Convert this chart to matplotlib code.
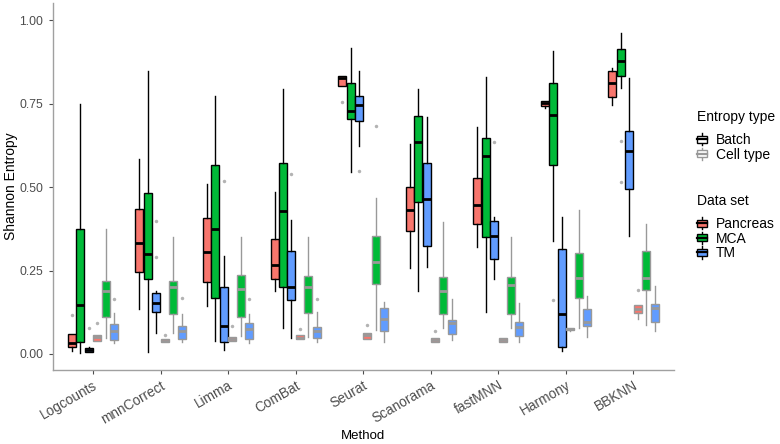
import matplotlib
matplotlib.use("Agg")
import matplotlib.pyplot as plt
from matplotlib.patches import Patch, Rectangle
from matplotlib.lines import Line2D
from matplotlib.legend_handler import HandlerBase

plt.rcParams['font.family'] = ['Liberation Sans', 'DejaVu Sans']

methods = ["Logcounts", "mnnCorrect", "Limma", "ComBat", "Seurat",
           "Scanorama", "fastMNN", "Harmony", "BBKNN"]
datasets = ["Pancreas", "MCA", "TM"]
entropy_types = ["Batch", "Cell type"]
ds_colors = ["#F8766D", "#00BA38", "#619CFF"]
line_colors = ["black", "#999999"]

# box stats per method, columns = Pancreas, MCA, TM
batch_lo = [[0.010, 0.002, 0.005], [0.135, 0.005, 0.062], [0.145, 0.040, 0.012],
            [0.189, 0.077, 0.049], [0.804, 0.545, 0.622], [0.257, 0.190, 0.262],
            [0.322, 0.127, 0.224], [0.737, 0.340, 0.010], [0.747, 0.797, 0.355]]
batch_q1 = [[0.020, 0.037, 0.007], [0.245, 0.225, 0.125], [0.215, 0.169, 0.035],
            [0.225, 0.202, 0.162], [0.804, 0.704, 0.699], [0.369, 0.457, 0.325],
            [0.390, 0.352, 0.285], [0.744, 0.567, 0.020], [0.770, 0.832, 0.494]]
batch_med = [[0.034, 0.147, 0.012], [0.334, 0.300, 0.154], [0.307, 0.374, 0.084],
             [0.267, 0.429, 0.200], [0.826, 0.727, 0.747], [0.432, 0.634, 0.464],
             [0.447, 0.592, 0.355], [0.752, 0.715, 0.120], [0.812, 0.877, 0.607]]
batch_q3 = [[0.059, 0.374, 0.018], [0.435, 0.482, 0.182], [0.407, 0.565, 0.200],
            [0.345, 0.572, 0.310], [0.832, 0.812, 0.774], [0.500, 0.714, 0.572],
            [0.527, 0.647, 0.399], [0.758, 0.813, 0.314], [0.847, 0.914, 0.669]]
batch_hi = [[0.060, 0.750, 0.020], [0.584, 0.847, 0.189], [0.510, 0.774, 0.294],
            [0.485, 0.794, 0.402], [0.832, 0.917, 0.849], [0.629, 0.794, 0.709],
            [0.679, 0.829, 0.412], [0.758, 0.909, 0.412], [0.857, 0.961, 0.827]]

cell_lo = [[0.040, 0.047, 0.034], [0.037, 0.062, 0.037], [0.040, 0.055, 0.034],
           [0.044, 0.050, 0.035], [0.045, 0.072, 0.035], [0.037, 0.077, 0.042],
           [0.037, 0.077, 0.037], [0.068, 0.077, 0.050], [0.104, 0.087, 0.070]]
cell_q1 = [[0.040, 0.112, 0.042], [0.037, 0.119, 0.045], [0.040, 0.112, 0.044],
           [0.044, 0.122, 0.049], [0.045, 0.210, 0.070], [0.037, 0.120, 0.060],
           [0.037, 0.120, 0.054], [0.072, 0.169, 0.084], [0.122, 0.192, 0.095]]
cell_med = [[0.050, 0.189, 0.069], [0.040, 0.202, 0.069], [0.046, 0.194, 0.074],
            [0.049, 0.202, 0.069], [0.057, 0.277, 0.105], [0.042, 0.189, 0.092],
            [0.043, 0.207, 0.082], [0.075, 0.229, 0.097], [0.134, 0.229, 0.137]]
cell_q3 = [[0.057, 0.219, 0.089], [0.044, 0.219, 0.084], [0.052, 0.237, 0.092],
           [0.057, 0.235, 0.082], [0.062, 0.354, 0.137], [0.047, 0.232, 0.102],
           [0.047, 0.232, 0.095], [0.079, 0.302, 0.134], [0.147, 0.309, 0.150]]
cell_hi = [[0.057, 0.374, 0.124], [0.044, 0.352, 0.119], [0.052, 0.352, 0.119],
           [0.057, 0.350, 0.125], [0.062, 0.469, 0.155], [0.047, 0.397, 0.164],
           [0.047, 0.350, 0.152], [0.079, 0.432, 0.174], [0.147, 0.389, 0.205]]

outliers = [
    ("Logcounts", "Batch", "Pancreas", 0.117), ("Logcounts", "Batch", "TM", 0.078),
    ("Logcounts", "Cell type", "Pancreas", 0.092), ("Logcounts", "Cell type", "TM", 0.164),
    ("mnnCorrect", "Batch", "TM", 0.400), ("mnnCorrect", "Batch", "TM", 0.290),
    ("mnnCorrect", "Cell type", "Pancreas", 0.057), ("mnnCorrect", "Cell type", "TM", 0.169),
    ("Limma", "Batch", "TM", 0.519), ("Limma", "Cell type", "Pancreas", 0.084),
    ("Limma", "Cell type", "TM", 0.164),
    ("ComBat", "Batch", "TM", 0.540), ("ComBat", "Cell type", "Pancreas", 0.075),
    ("ComBat", "Cell type", "TM", 0.164),
    ("Seurat", "Batch", "Pancreas", 0.755), ("Seurat", "Batch", "TM", 0.548),
    ("Seurat", "Cell type", "Pancreas", 0.087), ("Seurat", "Cell type", "MCA", 0.682),
    ("Scanorama", "Cell type", "Pancreas", 0.069),
    ("fastMNN", "Batch", "TM", 0.635),
    ("Harmony", "Batch", "MCA", 0.162),
    ("BBKNN", "Batch", "MCA", 0.637), ("BBKNN", "Batch", "MCA", 0.514),
    ("BBKNN", "Cell type", "Pancreas", 0.192),
]

stats_by_type = {
    "Batch": (batch_lo, batch_q1, batch_med, batch_q3, batch_hi),
    "Cell type": (cell_lo, cell_q1, cell_med, cell_q3, cell_hi),
}


class BoxKey(HandlerBase):
    # small boxplot glyph like ggplot legend keys
    def create_artists(self, legend, orig_handle, xdescent, ydescent,
                       width, height, fontsize, trans):
        fc = orig_handle.get_facecolor()
        ec = orig_handle.get_edgecolor()
        x0, y0 = -xdescent, -ydescent
        cx = x0 + width / 2
        whisk = Line2D([cx, cx], [y0 + 0.05 * height, y0 + 0.95 * height],
                       color=ec, lw=1.0, transform=trans)
        body = Rectangle((x0, y0 + 0.25 * height), width, 0.5 * height,
                         facecolor=fc, edgecolor=ec, lw=1.0, transform=trans)
        mid = Line2D([x0, x0 + width], [y0 + 0.5 * height] * 2,
                     color=ec, lw=1.6, transform=trans)
        return [whisk, body, mid]


fig = plt.figure(figsize=(7.8, 4.44), dpi=100)
ax = fig.add_axes([52.5 / 780, 1 - 370 / 444, (674 - 52.5) / 780, (370 - 3) / 444])

dodge = 0.125
box_w = 0.118

for e, et in enumerate(entropy_types):
    lo, q1, med, q3, hi = stats_by_type[et]
    for d, ds in enumerate(datasets):
        stats = []
        pos = []
        for m, meth in enumerate(methods):
            fl = [o[3] for o in outliers if o[0] == meth and o[1] == et and o[2] == ds]
            stats.append(dict(whislo=lo[m][d], q1=q1[m][d], med=med[m][d],
                              q3=q3[m][d], whishi=hi[m][d], fliers=fl))
            pos.append(m + 1 + (e * 3 + d - 2.5) * dodge)
        ax.bxp(stats, positions=pos, widths=box_w, patch_artist=True, showcaps=False,
               boxprops=dict(facecolor=ds_colors[d], edgecolor=line_colors[e], linewidth=1.0),
               medianprops=dict(color=line_colors[e], linewidth=2.0, solid_capstyle='butt'),
               whiskerprops=dict(color=line_colors[e], linewidth=1.0),
               flierprops=dict(marker='o', markersize=2.5, markerfacecolor='#b3b3b3',
                               markeredgecolor='none'),
               manage_ticks=False)

ax.set_xlim(0.4, 9.6)
ax.set_ylim(-0.048, 1.052)
ax.set_yticks([0, 0.25, 0.5, 0.75, 1.0])
ax.set_yticklabels(["0.00", "0.25", "0.50", "0.75", "1.00"])
ax.set_xticks(range(1, len(methods) + 1))
ax.set_xticklabels(methods, rotation=30, ha="right", va="top", rotation_mode="anchor")
for s in ["top", "right"]:
    ax.spines[s].set_visible(False)
for s in ["left", "bottom"]:
    ax.spines[s].set_color("#a0a0a0")
    ax.spines[s].set_linewidth(1.0)
ax.tick_params(colors="#4d4d4d", labelsize=8.8, length=3, width=0.8, labelcolor="#4d4d4d")
ax.tick_params(axis="x", pad=3, labelsize=9.8)
ax.set_xlabel("Method", fontsize=9.5, labelpad=3)
ax.set_ylabel("Shannon Entropy", fontsize=10, labelpad=1)

h1 = [Patch(facecolor="white", edgecolor=c) for c in line_colors]
leg1 = fig.legend(h1, entropy_types, title="Entropy type", loc="upper left",
                  bbox_to_anchor=(697 / 780, 1 - 110 / 444), frameon=False,
                  handler_map={Patch: BoxKey()}, handlelength=0.75, handleheight=1.15,
                  handletextpad=0.6, labelspacing=0.0, fontsize=10, title_fontsize=10,
                  alignment="left", borderaxespad=0, borderpad=0)
leg1._legend_box.sep = 6
h2 = [Patch(facecolor=c, edgecolor="black") for c in ds_colors]
leg2 = fig.legend(h2, datasets, title="Data set", loc="upper left",
                  bbox_to_anchor=(697 / 780, 1 - 194 / 444), frameon=False,
                  handler_map={Patch: BoxKey()}, handlelength=0.75, handleheight=1.15,
                  handletextpad=0.6, labelspacing=0.0, fontsize=10, title_fontsize=10,
                  alignment="left", borderaxespad=0, borderpad=0)
leg2._legend_box.sep = 6

fig.savefig("out.png", dpi=100)
plt.close(fig)
